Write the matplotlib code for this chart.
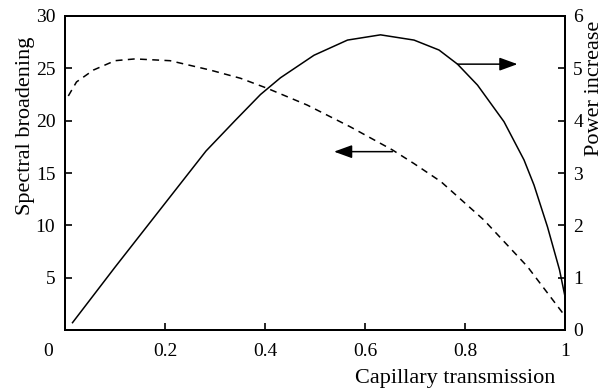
import matplotlib
matplotlib.use("Agg")
import matplotlib.pyplot as plt

# Power increase (right axis), solid curve
power_x = [0.015, 0.1, 0.2, 0.282, 0.34, 0.391, 0.431, 0.498, 0.565, 0.631,
           0.698, 0.748, 0.785, 0.825, 0.878, 0.918, 0.938, 0.965, 0.989, 1.0]
power_y = [0.14, 1.2, 2.42, 3.42, 4.0, 4.5, 4.82, 5.25, 5.54, 5.64,
           5.54, 5.35, 5.08, 4.68, 3.98, 3.25, 2.77, 1.97, 1.15, 0.64]

# Spectral broadening (left axis), dashed curve
broad_x = [0.0066, 0.023, 0.057, 0.1, 0.14, 0.21, 0.29, 0.351, 0.404,
           0.484, 0.571, 0.655, 0.698, 0.752, 0.838, 0.925, 0.999]
broad_y = [22.36, 23.7, 24.84, 25.73, 25.9, 25.73, 24.84, 24.05, 23.1,
           21.5, 19.4, 17.2, 15.9, 14.17, 10.5, 6.05, 1.4]

x_ticks = [0.2, 0.4, 0.6, 0.8, 1.0]
x_ticklabels = ["0.2", "0.4", "0.6", "0.8", "1"]
left_ticks = [5, 10, 15, 20, 25, 30]
right_ticks = [0, 1, 2, 3, 4, 5, 6]

plt.rcParams['font.family'] = ['Liberation Serif', 'DejaVu Serif']

fig = plt.figure(figsize=(6.11, 3.90), dpi=100)
ax = fig.add_axes([65/611, 1-330/390, 500/611, 314/390])
ax2 = ax.twinx()

ax.plot(broad_x, broad_y, color='black', lw=1.1, linestyle=(0, (4.5, 3.5)))
ax2.plot(power_x, power_y, color='black', lw=1.1)

ax.set_xlim(0, 1)
ax.set_ylim(0, 30)
ax2.set_ylim(0, 6)

ax.set_xticks(x_ticks)
ax.set_xticklabels(x_ticklabels)
ax.set_yticks(left_ticks)
ax2.set_yticks(right_ticks)

ax.tick_params(axis='both', direction='in', length=5, width=1.2, labelsize=14, pad=7)
ax.tick_params(axis='x', pad=9)
ax2.tick_params(axis='y', direction='in', length=5, width=1.2, labelsize=14, pad=6)

for a in (ax, ax2):
    for s in a.spines.values():
        s.set_linewidth(1.4)

# shared origin label
ax.annotate("0", xy=(0, 0), xycoords='data', xytext=(-12, -9),
            textcoords='offset points', ha='center', va='top', fontsize=14)

ax.set_xlabel("Capillary transmission", fontsize=16, loc='right')
ax.xaxis.set_label_coords(0.98, -0.125)
ax.set_ylabel("Spectral broadening", fontsize=16)
ax.yaxis.set_label_coords(-0.06, 0.65)
ax2.set_ylabel("Power increase", fontsize=16)
ax2.yaxis.set_label_coords(1.04, 0.77)

# arrows indicating which axis each curve belongs to
ax2.annotate("", xy=(0.905, 5.08), xytext=(0.785, 5.08),
             arrowprops=dict(arrowstyle="-|>,head_length=0.55,head_width=0.2",
                             mutation_scale=20, color='black', lw=1.1,
                             shrinkA=0, shrinkB=0))
ax.annotate("", xy=(0.538, 17.04), xytext=(0.655, 17.04),
            arrowprops=dict(arrowstyle="-|>,head_length=0.55,head_width=0.2",
                            mutation_scale=20, color='black', lw=1.1,
                            shrinkA=0, shrinkB=0))

fig.savefig("out.png", dpi=100)
